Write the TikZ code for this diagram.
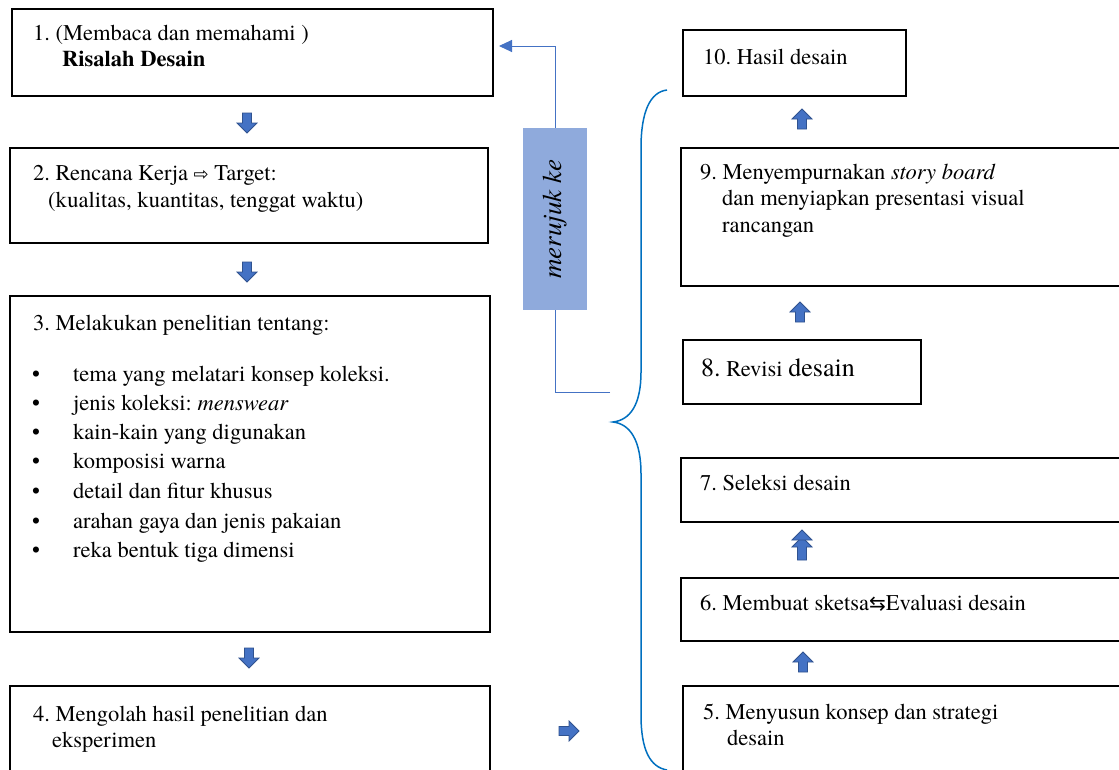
\documentclass[tikz,border=0pt]{standalone}
\usepackage{fontspec}
\IfFontExistsTF{texgyretermes-regular.otf}{%
  \setmainfont{texgyretermes}[Extension=.otf, UprightFont=*-regular, BoldFont=*-bold, ItalicFont=*-italic, BoldItalicFont=*-bolditalic]}{%
  \setmainfont{Liberation Serif}}
\newfontfamily\symfont{DejaVu Sans}
\usetikzlibrary{arrows.meta}
\definecolor{conblue}{HTML}{4472C4}
\definecolor{bracecol}{HTML}{0070C0}
\definecolor{mkfill}{HTML}{8FAADC}
\definecolor{arrfill}{HTML}{4472C4}
\definecolor{arrdraw}{HTML}{2F528F}
\frenchspacing
\begin{document}
\begin{tikzpicture}[x=1pt,y=-1pt,
  box/.style={draw=black, line width=1.4pt, anchor=north west, inner sep=0pt, outer sep=0pt},
  txt/.style={anchor=base west, inner sep=0pt, font=\fontsize{22.5}{26}\selectfont},
  bul/.style={anchor=base, inner sep=0pt, font=\fontsize{22.5}{26}\selectfont},
  conn/.style={draw=conblue, line width=1pt},
  blk/.style={fill=arrfill, draw=arrdraw, line width=0.8pt, line join=miter},
  blockarr/.pic={\path[blk] (-10,-4.5)--(0,-4.5)--(0,-10)--(10,0)--(0,10)--(0,4.5)--(-10,4.5)--cycle;},
  dblarr/.pic={\path[blk] (-15,-4.5)--(-2,-4.5)--(-2,-10)--(8,0)--(-2,10)--(-2,4.5)--(-15,4.5)--cycle;
               \path[blk] (5,-4.5)--(5,-10)--(15,0)--(5,10)--(5,4.5)--cycle;}
]
\useasboundingbox (0,0) rectangle (1119,769);
\clip (0,0) rectangle (1119,769);
\fill[white] (0,0) rectangle (1119,769);

% left boxes
\node[box, minimum width=481pt, minimum height=87pt] (b1) at (12,9) {};
\node[box, minimum width=478pt, minimum height=95pt] (b2) at (10,148) {};
\node[box, minimum width=480pt, minimum height=336pt] (b3) at (10,296) {};
\node[box, minimum width=480pt, minimum height=120pt] (b4) at (10,686) {};

% right boxes
\node[box, minimum width=223pt, minimum height=66pt] (b10) at (683,30) {};
\node[box, minimum width=470pt, minimum height=138pt] (b9) at (681,148) {};
\node[box, minimum width=238pt, minimum height=64pt] (b8) at (683,340) {};
\node[box, minimum width=470pt, minimum height=64pt] (b7) at (681,458) {};
\node[box, minimum width=470pt, minimum height=63pt] (b6) at (681,578) {};
\node[box, minimum width=470pt, minimum height=120pt] (b5) at (683,686) {};

% texts box 1
\node[txt] (t1a) at (33,40) {1. (Membaca dan memahami )};
\node[txt] (t1b) at (62,66) {\bfseries Risalah Desain};
% box 2
\node[txt] (t2a) at (33,180) {2. Rencana Kerja {\symfont\fontsize{18}{20}\selectfont ⇨} Target:};
\node[txt] (t2b) at (48,207) {(kualitas, kuantitas, tenggat waktu)};
% box 3
\node[txt] (t3) at (33,330) {3. Melakukan penelitian tentang:};
\foreach \i/\yy/\tx in {1/381/{tema yang melatari konsep koleksi.},
                        2/410/{jenis koleksi: \textit{menswear}},
                        3/439/{kain-kain yang digunakan},
                        4/468/{komposisi warna},
                        5/498/{detail dan fitur khusus},
                        6/528/{arahan gaya dan jenis pakaian},
                        7/557/{reka bentuk tiga dimensi}}{
  \node[bul] (bu\i) at (36,\yy) {•};
  \node[txt] (bt\i) at (73,\yy) {\tx};
}
% box 4
\node[txt] (t4a) at (33,721) {4. Mengolah hasil penelitian dan};
\node[txt] (t4b) at (52,747) {eksperimen};
% box 10
\node[txt] (t10) at (703,64) {10. Hasil desain};
% box 9
\node[txt] (t9a) at (700,179) {9. Menyempurnakan \textit{story board}};
\node[txt] (t9b) at (722,205) {dan menyiapkan presentasi visual};
\node[txt] (t9c) at (722,232) {rancangan};
% box 8
\node[txt] (t8) at (701,376) {{\fontsize{26}{30}\selectfont 8.} Revisi {\fontsize{26}{30}\selectfont desain}};
% box 7
\node[txt] (t7) at (700,490) {7. Seleksi desain};
% box 6
\node[txt] (t6) at (700,610) {6. Membuat sketsa{\symfont\fontsize{20}{22}\selectfont ⇆}Evaluasi desain};
% box 5
\node[txt] (t5a) at (703,719) {5. Menyusun konsep dan strategi};
\node[txt] (t5b) at (727,745) {desain};

% block arrows
\pic[rotate=-90] at (247,123) {blockarr};
\pic[rotate=-90] at (247,272) {blockarr};
\pic[rotate=-90] at (249,658) {blockarr};
\pic at (569,731) {blockarr};
\pic[rotate=90] at (802,119) {blockarr};
\pic[rotate=90] at (800,312) {blockarr};
\pic[rotate=90] at (802,545) {dblarr};
\pic[rotate=90] at (803,662) {blockarr};

% merujuk ke
\node[fill=mkfill, minimum width=64pt, minimum height=182pt, inner sep=0pt, anchor=north west] (mk) at (523,128) {};
\node[rotate=90, inner sep=0pt, font=\fontsize{27}{30}\selectfont\itshape] (mkt) at (mk.center) {merujuk ke};
\coordinate (cr) at (610,392);
\coordinate (arrtip) at (499,46);
\draw[conn] (cr) -| (mk.south);
\draw[conn, -{Triangle[length=13pt, width=12pt]}] (mk.north) |- (arrtip);

% brace
\draw[draw=bracecol, line width=1.5pt] (667,90) .. controls (650,92) and (641,112) .. (641,148)
  -- (641,372) .. controls (641,405) and (630,420) .. (613,422)
  .. controls (630,424) and (641,440) .. (641,474)
  -- (641,715) .. controls (641,750) and (650,767) .. (667,770);
\end{tikzpicture}
\end{document}
